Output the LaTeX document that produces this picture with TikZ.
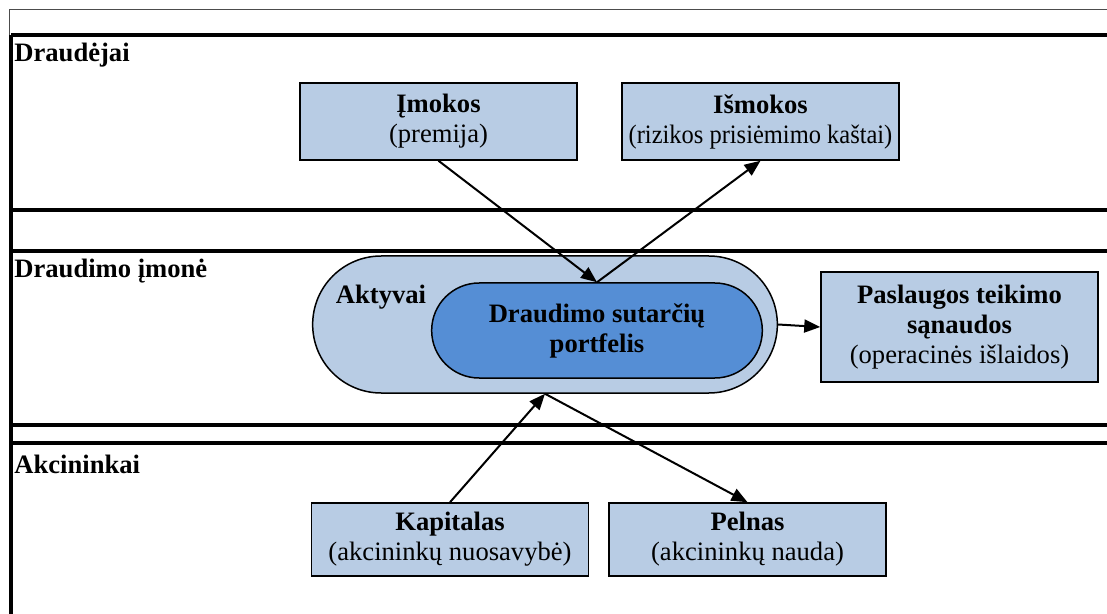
\documentclass[tikz,border=0pt]{standalone}
\usepackage{fontspec}
\setmainfont{Liberation Serif}
\usetikzlibrary{arrows.meta,shapes.misc}

\definecolor{boxblue}{HTML}{B8CCE4}
\definecolor{coreblue}{HTML}{558ED5}

\begin{document}
\begin{tikzpicture}[x=0.5pt,y=-0.5pt,>={Triangle[length=8pt,width=6.5pt]},
    font=\fontsize{13.3pt}{15pt}\selectfont]
  \tikzstyle{box}=[draw=black,line width=0.75pt,fill=boxblue,align=center,
                   minimum width=138.5pt,minimum height=38.5pt,inner sep=2pt]
  \tikzstyle{lane}=[line width=2pt]
  \tikzstyle{lanelabel}=[anchor=west,inner sep=1pt,font=\fontsize{13.3pt}{15pt}\selectfont\bfseries]
  \tikzstyle{flow}=[->,line width=1pt]

  \useasboundingbox (0,0) rectangle (1107,614);

  % frame and lanes
  \draw[line width=0.5pt,black!70] (1107,10) -- (9,10) -- (9,614);
  \draw[lane] (11,614) -- (11,35);
  \foreach \y in {35,210,251,425,443}
    \draw[lane] (11,\y) -- (1107,\y);

  \node[lanelabel] (draudejai) at (12,55)  {Draudėjai};
  \node[lanelabel] (imone)     at (12,271) {Draudimo įmonė};
  \node[lanelabel] (akcininkai) at (12,464) {Akcininkai};

  % boxes
  \node[box] (imokos)  at (438.5,121.5) {\textbf{Įmokos}\\(premija)};
  \node[box] (ismokos) at (760.5,121.5)
        {\textbf{Išmokos}\\\scalebox{0.92}[1]{(rizikos prisiėmimo kaštai)}};

  \node[rounded rectangle,draw=black,line width=0.75pt,fill=boxblue,
        minimum width=239pt,minimum height=68.5pt] (aktyvai) at (545,324.5) {};
  \node[font=\fontsize{13.3pt}{15pt}\selectfont\bfseries] (aktyvailabel) at (381,297) {Aktyvai};
  \node[rounded rectangle,draw=black,line width=0.75pt,fill=coreblue,align=center,
        minimum width=172pt,minimum height=47.5pt,
        font=\fontsize{13.3pt}{15pt}\selectfont\bfseries] (portfelis) at (597,330.5)
        {Draudimo sutarčių\\portfelis};

  \node[box,minimum height=55pt] (paslaugos) at (959.5,327)
        {\textbf{Paslaugos teikimo}\\\textbf{sąnaudos}\\(operacinės išlaidos)};

  \node[box,minimum height=36.5pt] (kapitalas) at (450,539.5) {\textbf{Kapitalas}\\(akcininkų nuosavybė)};
  \node[box,minimum height=36.5pt] (pelnas)    at (747.5,539.5) {\textbf{Pelnas}\\(akcininkų nauda)};

  % flows
  \draw[flow] (imokos.south) -- (portfelis.north);
  \draw[flow] (portfelis.north) -- (ismokos.south);
  \draw[flow] (aktyvai.east) -- (paslaugos.west);
  \draw[flow] (kapitalas.north) -- (aktyvai.south);
  \draw[flow] (aktyvai.south) -- (pelnas.north);
\end{tikzpicture}
\end{document}
